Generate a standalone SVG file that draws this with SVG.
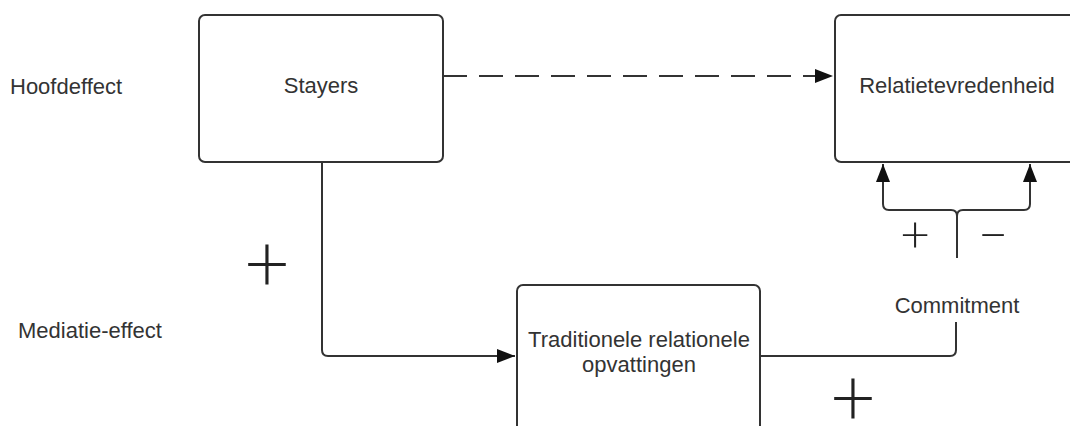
<svg xmlns="http://www.w3.org/2000/svg" width="1070" height="426" viewBox="0 0 1070 426">
<style>
.box{fill:#fff;stroke:#333;stroke-width:2}
.lbl{font-family:"Liberation Sans",Arial,sans-serif;font-size:22px;fill:#333}
.mid{text-anchor:middle}
.sym{font-family:Lato,"Liberation Sans",sans-serif;font-weight:300;fill:#222;text-anchor:middle}
.conn{fill:none;stroke:#333;stroke-width:2}
</style>
<defs>
<marker id="arr" markerUnits="userSpaceOnUse" markerWidth="20" markerHeight="16" refX="18" refY="7" orient="auto">
<path d="M0,0 L18,7 L0,14 z" fill="#111"/>
</marker>
</defs>
<rect width="1070" height="426" fill="#fff"/>
<text class="lbl" x="10" y="94">Hoofdeffect</text>
<text class="lbl" x="18" y="338">Mediatie-effect</text>
<g id="connectors">
<path class="conn" d="M443,76 H833" stroke-dasharray="24 12" marker-end="url(#arr)"/>
<path class="conn" d="M322,162 V350 Q322,356 328,356 H515" marker-end="url(#arr)"/>
<path class="conn" d="M760,356 H950 Q956,356 956,350 V322"/>
<path class="conn" d="M957,258 V216 Q957,210 951,210 H889 Q883,210 883,204 V164" marker-end="url(#arr)"/>
<path class="conn" d="M957,258 V216 Q957,210 963,210 H1024 Q1030,210 1030,204 V164" marker-end="url(#arr)"/>
</g>
<g id="stayers">
<rect class="box" x="199" y="15" width="244" height="147" rx="6"/>
<text class="lbl mid" x="321" y="93">Stayers</text>
</g>
<g id="relatietevredenheid">
<rect class="box" x="835" y="15" width="244" height="147" rx="6"/>
<text class="lbl mid" x="957" y="93">Relatietevredenheid</text>
</g>
<g id="traditionele">
<rect class="box" x="517" y="285" width="243" height="160" rx="6"/>
<text class="lbl mid" x="639" y="347">Traditionele relationele</text>
<text class="lbl mid" x="639" y="372">opvattingen</text>
</g>
<g id="commitment">
<text class="lbl mid" x="957" y="313">Commitment</text>
</g>
<g id="signs">
<text class="sym" x="267" y="292" font-size="80">+</text>
<text class="sym" x="853" y="426" font-size="80">+</text>
<text class="sym" x="915" y="252" font-size="52">+</text>
<text class="sym" x="993" y="252" font-size="52">−</text>
</g>
</svg>
